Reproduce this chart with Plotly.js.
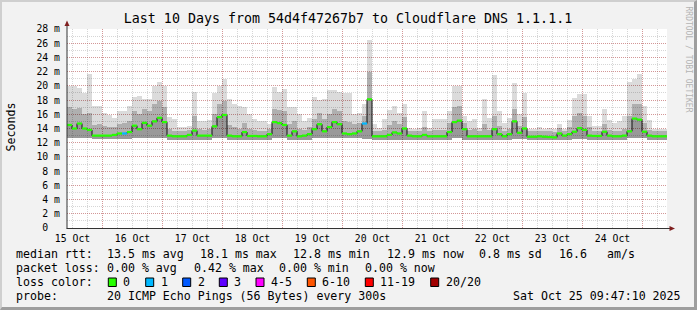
<!DOCTYPE html>
<html>
<head>
<meta charset="utf-8">
<script src="https://cdn.plot.ly/plotly-3.0.1.min.js"></script>
<style>
  html, body { margin: 0; padding: 0; background: #f2f2f2; }
  #frame { box-sizing: border-box; width: 697px; height: 310px;
           border-top: 2px solid #cfcfcf; border-left: 2px solid #cfcfcf;
           border-right: 3px solid #9e9e9e; border-bottom: 3px solid #9e9e9e; }
  #chart { width: 692px; height: 305px; }
</style>
</head>
<body>
<div id="frame"><div id="chart"></div></div>
<script>
// ---------------- data (2-hour bins, 10 days, values in ms) ----------------
const medianRtt = [
  14.5,14.0,14.7,14.0,13.8,13.0,13.0,13.0,13.0,13.1,
  13.3,13.3,13.5,14.4,13.9,14.8,14.4,15.0,15.5,14.9,
  13.0,12.9,12.9,12.9,13.1,13.7,13.0,13.0,13.0,14.3,
  15.6,15.9,13.0,12.9,12.9,13.5,12.95,12.95,12.9,12.9,
  13.2,14.9,14.75,14.5,13.0,13.6,12.9,13.0,13.2,13.9,
  14.6,13.6,14.2,14.9,14.6,13.3,13.2,13.3,13.6,14.7,
  18.1,12.9,12.9,12.9,13.1,13.45,13.3,14.0,13.0,12.9,
  12.9,13.1,12.9,12.9,12.9,12.9,13.5,14.9,15.1,13.9,
  12.9,12.9,12.9,12.9,12.9,13.9,13.2,12.9,13.2,15.0,
  13.4,14.0,12.85,12.85,12.9,12.85,12.8,12.75,13.3,13.0,
  13.2,13.55,14.05,13.8,13.0,12.95,12.95,13.55,13.0,12.9,
  12.9,13.0,13.6,15.4,15.25,13.55,13.0,12.9,12.9,12.9
];
const maxRtt = [
  20.0,20.0,19.7,19.0,21.6,17.2,17.1,16.2,15.9,15.5,
  16.5,16.5,17.1,18.4,18.6,18.1,18.1,20.0,20.5,20.0,
  15.6,15.3,14.2,14.2,14.4,19.2,15.0,15.0,15.2,19.0,
  20.0,21.0,18.1,17.4,17.1,17.0,16.0,15.3,15.1,15.1,
  14.6,19.8,19.2,19.6,17.0,17.0,16.0,15.0,15.5,18.4,
  18.0,18.1,19.4,19.4,19.2,19.0,19.0,16.0,16.2,17.5,
  26.5,14.6,14.1,15.3,16.6,17.2,16.2,17.5,14.1,13.9,
  14.1,16.4,14.1,15.3,15.3,15.3,16.4,20.0,20.0,15.7,
  15.0,15.3,14.1,18.1,15.5,21.5,16.5,14.8,15.5,20.4,
  16.0,19.0,14.0,14.0,14.2,14.0,14.1,14.0,14.6,14.0,
  15.2,18.3,18.8,18.8,15.7,14.3,14.4,16.7,15.2,14.8,
  15.0,15.7,20.5,21.0,21.7,17.1,15.2,14.0,13.9,14.0
];
const upperRtt = [
  17.0,16.8,16.9,16.0,16.2,14.5,14.6,14.3,14.2,14.2,
  14.6,14.8,15.0,16.5,16.0,16.8,16.4,17.5,17.8,17.0,
  13.9,13.7,13.6,13.6,13.8,15.8,13.9,13.8,13.9,16.0,
  17.5,17.8,14.5,14.2,14.0,14.8,13.9,13.8,13.7,13.7,
  13.9,16.8,16.6,16.4,14.6,15.0,13.9,13.8,14.2,15.4,
  16.2,15.3,16.0,16.8,16.5,15.0,14.9,14.6,14.8,15.8,
  22.0,13.7,13.6,13.8,14.5,15.0,14.6,15.6,13.7,13.6,
  13.6,14.2,13.6,13.8,13.8,13.8,14.8,17.0,17.2,14.8,
  13.8,13.9,13.6,14.6,13.8,15.8,14.4,13.7,13.9,16.8,
  14.4,15.6,13.6,13.6,13.7,13.6,13.6,13.5,14.1,13.7,
  14.2,15.8,16.2,15.8,14.2,13.7,13.7,14.6,13.8,13.7,
  13.7,13.9,15.8,17.5,17.4,14.8,13.8,13.6,13.6,13.6
];
const minRtt = [
  12.7,12.7,12.7,12.7,12.7,12.5,12.5,12.5,12.5,12.5,
  12.5,12.5,12.5,12.7,12.7,12.7,12.7,12.7,12.7,12.7,
  12.4,12.4,12.4,12.4,12.4,12.4,12.4,12.4,12.4,12.7,
  12.7,12.7,12.4,12.4,12.4,12.4,12.4,12.4,12.4,12.4,
  12.4,12.6,12.6,12.6,12.4,12.4,12.4,12.4,12.4,12.6,
  12.6,12.6,12.6,12.6,12.6,12.6,12.6,12.6,12.6,12.5,
  12.5,12.4,12.4,12.4,12.4,12.4,12.4,12.4,12.4,12.4,
  12.4,12.4,12.4,12.4,12.4,12.4,12.4,12.6,12.6,12.4,
  12.4,12.4,12.4,12.4,12.4,12.4,12.4,12.4,12.4,12.5,
  12.5,12.5,12.4,12.4,12.4,12.4,12.4,12.4,12.4,12.4,
  12.4,12.5,12.5,12.5,12.4,12.4,12.4,12.4,12.4,12.4,
  12.4,12.4,12.6,12.6,12.6,12.6,12.4,12.4,12.4,12.4
];
// lost pings per bin (out of 20)
const lostPings = [
  0,0,0,0,0,0,0,0,0,0, 0,1,0,0,0,0,0,0,0,0,
  0,0,0,0,0,0,0,0,0,0, 0,0,0,0,0,0,0,0,0,0,
  0,0,0,0,0,0,0,0,0,0, 0,0,0,0,0,0,0,0,0,1,
  0,0,0,0,0,0,0,0,0,0, 0,0,0,0,0,0,0,0,0,0,
  0,0,0,0,0,0,0,0,0,0, 0,0,0,0,0,0,0,0,0,0,
  0,0,0,0,0,0,0,0,0,0, 0,0,0,0,0,0,0,0,0,0
];
const dayLabels = ['15 Oct','16 Oct','17 Oct','18 Oct','19 Oct','20 Oct','21 Oct','22 Oct','23 Oct','24 Oct'];
const yTickValues = [0,2,4,6,8,10,12,14,16,18,20,22,24,26,28];
const yTickLabels = ['0\u00a0\u00a0','2 m','4 m','6 m','8 m','10 m','12 m','14 m','16 m','18 m','20 m','22 m','24 m','26 m','28 m'];
const rttStats = ['13.5 ms avg','18.1 ms max','12.8 ms min','12.9 ms now','0.8 ms sd','16.6','am/s'];
const lossStats = ['0.00 % avg','0.42 % max','0.00 % min','0.00 % now'];
const lossClassLabels = ['0','1','2','3','4-5','6-10','11-19','20/20'];
const lossClassColors = ['#26ff00','#00b8ff','#0059ff','#5e00ff','#ff00ff','#ff5500','#ff0000','#a10000'];
const probeText = '20 ICMP Echo Pings (56 Bytes) every 300s';
const stampText = 'Sat Oct 25 09:47:10 2025';
const titleText = 'Last 10 Days from 54d4f47267b7 to Cloudflare DNS 1.1.1.1';

// ---------------- geometry ----------------
const HOUR = 3600000, STEP = 2 * HOUR;
const t0 = Date.UTC(2025, 9, 15, 9, 47, 10);
const t1 = t0 + 10 * 24 * HOUR;
const PL = 67, PW = 600, PT = 29, PH = 199;   // plot area in page pixels
const OFF = 2;                                 // frame border
const px = x => (x - PL) / PW;
const py = y => (PT + PH - y) / PH;

const centers = medianRtt.map((_, i) => t0 + (i + 0.5) * STEP);
const starts  = medianRtt.map((_, i) => t0 + i * STEP);

function band(top, bottom, color) {
  return { type: 'bar', x: centers, base: bottom, y: top.map((v, i) => v - bottom[i]),
           width: STEP, marker: { color: color, line: { width: 0 } },
           hoverinfo: 'skip', showlegend: false };
}
const traces = [
  band(maxRtt, minRtt, 'rgba(0,0,0,0.14)'),
  band(upperRtt, minRtt, 'rgba(0,0,0,0.20)'),
  band(medianRtt, minRtt, 'rgba(0,0,0,0.12)')
];
// dark step line connecting the medians
traces.push({ type: 'scatter', mode: 'lines', x: starts.concat([t1]), y: medianRtt.concat([medianRtt[medianRtt.length-1]]),
  line: { shape: 'hv', color: '#111', width: 1 }, hoverinfo: 'skip', showlegend: false });
// median segments coloured by loss class
function lossClass(n) { if (n <= 3) return n; if (n <= 5) return 4; if (n <= 10) return 5; if (n <= 19) return 6; return 7; }
lossClassColors.forEach((col, c) => {
  const xs = [], ys = [];
  medianRtt.forEach((m, i) => {
    if (lossClass(lostPings[i]) === c) { xs.push(starts[i], starts[i] + STEP, null); ys.push(m, m, null); }
  });
  if (xs.length) traces.push({ type: 'scatter', mode: 'lines', x: xs, y: ys,
    line: { color: col, width: 2.2 }, hoverinfo: 'skip', showlegend: false });
});
// dummy trace for the label axis
traces.push({ type: 'scatter', x: [t0], y: [0], xaxis: 'x2', mode: 'markers', marker: { opacity: 0 }, hoverinfo: 'skip', showlegend: false });

const mono = 'DejaVu Sans Mono';
const midnights = dayLabels.map((_, i) => t0 - (9*HOUR + 47*60000 + 10000) + (i + 1) * 24 * HOUR);
const noons = dayLabels.map((_, i) => t0 - (9*HOUR + 47*60000 + 10000) + 12 * HOUR + i * 24 * HOUR);

const majorGrid = 'rgba(205,40,40,0.36)';
const minorGrid = 'rgba(140,140,140,0.36)';

const annotations = [];
function txt(text, x, y, opts) {
  annotations.push(Object.assign({ text: text, xref: 'paper', yref: 'paper', x: px(x), y: py(y),
    xanchor: 'left', yanchor: 'middle', showarrow: false, borderpad: 0, xshift: -1,
    font: { family: mono, size: 11.6, color: '#000' } }, opts || {}));
}
const row = [254.3, 268.3, 282.3, 296.0];
txt('median rtt:', 16, row[0]);
[107.3, 200, 292.7, 386.7, 479.3, 559, 607.3].forEach((x, i) => txt(rttStats[i], x, row[0]));
txt('packet loss:', 16, row[1]);
[107.3, 194, 279.3, 365.3].forEach((x, i) => txt(lossStats[i], x, row[1]));
txt('loss color:', 16, row[2]);
const sqX = [108.3, 145.7, 182.7, 219.3, 256, 307.3, 365.3, 430.7];
const shapes = [];
sqX.forEach((x, i) => {
  shapes.push({ type: 'rect', xref: 'paper', yref: 'paper', x0: px(x), x1: px(x + 8), y0: py(278), y1: py(286.5),
    fillcolor: lossClassColors[i], line: { color: '#000', width: 1 } });
  txt(lossClassLabels[i], x + 15, row[2]);
});
txt('probe:', 16, row[3]);
txt(probeText, 107.3, row[3]);
txt(stampText, 513.3, row[3]);
// axis titles / watermark
annotations.push({ text: 'Seconds', xref: 'paper', yref: 'paper', x: px(10.5), y: py(127), textangle: -90,
  xanchor: 'center', yanchor: 'middle', showarrow: false, font: { family: mono, size: 11.6, color: '#000' } });
annotations.push({ text: 'RRDTOOL / TOBI OETIKER', xref: 'paper', yref: 'paper', x: px(688.5), y: py(59), textangle: 90,
  xanchor: 'center', yanchor: 'middle', showarrow: false, font: { family: mono, size: 8, color: '#b4b4b4' } });

// axis lines and arrows
const axisCol = '#333';
shapes.push({ type: 'line', xref: 'paper', yref: 'paper', x0: px(67), x1: px(67), y0: py(228.5), y1: py(24), line: { color: axisCol, width: 1 } });
shapes.push({ type: 'line', xref: 'paper', yref: 'paper', x0: px(66.5), x1: px(671), y0: py(228.5), y1: py(228.5), line: { color: axisCol, width: 1 } });
const arrowCol = '#7f1f1f';
shapes.push({ type: 'path', xref: 'paper', yref: 'paper',
  path: `M ${px(67)} ${py(20.5)} L ${px(64.5)} ${py(26)} L ${px(69.5)} ${py(26)} Z`, fillcolor: arrowCol, line: { width: 0 } });
shapes.push({ type: 'path', xref: 'paper', yref: 'paper',
  path: `M ${px(675)} ${py(228.5)} L ${px(669.5)} ${py(226)} L ${px(669.5)} ${py(231)} Z`, fillcolor: arrowCol, line: { width: 0 } });

const layout = {
  width: 692, height: 305,
  margin: { l: PL - OFF, r: 692 - (PL - OFF) - PW, t: PT - OFF, b: 305 - (PT - OFF) - PH, pad: 0 },
  paper_bgcolor: '#f2f2f2', plot_bgcolor: '#ffffff',
  barmode: 'overlay', bargap: 0, showlegend: false,
  title: { text: titleText, x: 0.5, xref: 'container', xanchor: 'center',
           y: 1 - (18.5 - OFF) / 305, yref: 'container', yanchor: 'middle',
           font: { family: mono, size: 13.3, color: '#000' } },
  xaxis: { type: 'date', range: [t0, t1], tickmode: 'array', tickvals: midnights, ticktext: midnights.map(() => ''),
           showgrid: true, gridcolor: majorGrid, griddash: '1px,1px', gridwidth: 1,
           zeroline: false, showline: false, ticks: '', fixedrange: true,
           minor: { tick0: midnights[0], dtick: 6 * HOUR, showgrid: true, gridcolor: minorGrid, griddash: '1px,1px', gridwidth: 1, ticks: '' } },
  xaxis2: { type: 'date', overlaying: 'x', anchor: 'y', side: 'bottom', range: [t0, t1],
            tickmode: 'array', tickvals: noons, ticktext: dayLabels, showgrid: false, zeroline: false, showline: false,
            ticks: '', ticklabelstandoff: 3, tickfont: { family: mono, size: 9.8, color: '#000' } },
  yaxis: { range: [0, 28], tickmode: 'array', tickvals: yTickValues, ticktext: yTickLabels,
           showgrid: true, gridcolor: majorGrid, griddash: '1px,1px', gridwidth: 1,
           zeroline: false, showline: false, ticks: '', ticklabelstandoff: 6,
           tickfont: { family: mono, size: 9.8, color: '#000' },
           minor: { dtick: 1, showgrid: true, gridcolor: minorGrid, griddash: '1px,1px', gridwidth: 1, ticks: '' } },
  shapes: shapes,
  annotations: annotations
};
Plotly.newPlot('chart', traces, layout, { displayModeBar: false, staticPlot: true });
</script>
</body>
</html>
